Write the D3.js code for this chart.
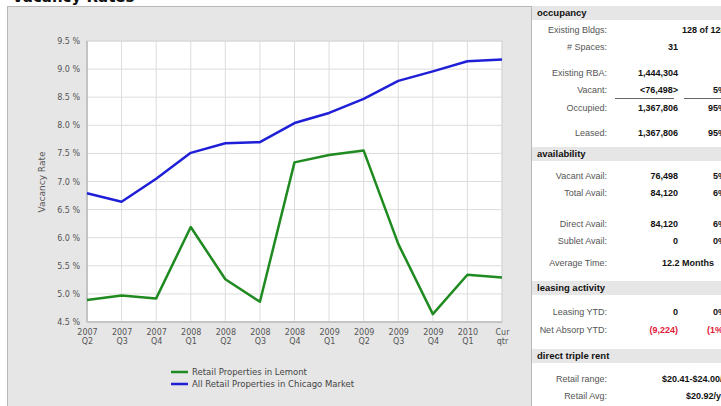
<!DOCTYPE html>
<html>
<head>
<meta charset="utf-8">
<script src="https://cdn.jsdelivr.net/npm/d3@7"></script>
<style>
  body { margin: 0; background: #fff; }
  svg { display: block; }
</style>
</head>
<body>
<div id="chart"></div>
<script>
// data
var quarters = ["2007|Q2", "2007|Q3", "2007|Q4", "2008|Q1", "2008|Q2", "2008|Q3", "2008|Q4",
                "2009|Q1", "2009|Q2", "2009|Q3", "2009|Q4", "2010|Q1", "Cur|qtr"];
var lemont  = [4.89, 4.97, 4.92, 6.19, 5.26, 4.86, 7.34, 7.47, 7.55, 5.89, 4.64, 5.34, 5.29];
var chicago = [6.79, 6.64, 7.05, 7.51, 7.68, 7.70, 8.04, 8.22, 8.47, 8.79, 8.96, 9.14, 9.17];
var yTicks = [4.5, 5.0, 5.5, 6.0, 6.5, 7.0, 7.5, 8.0, 8.5, 9.0, 9.5];
var seriesNames = ["Retail Properties in Lemont", "All Retail Properties in Chicago Market"];
var seriesColors = ["#1f8a1f", "#1f1fd8"];

// right hand table: [label, value, percent, y]
var sections = [
  { title: "occupancy", y: 6, rows: [
    ["Existing Bldgs:", "", "", 30],
    ["# Spaces:", "31", "", 47],
    ["Existing RBA:", "1,444,304", "", 73],
    ["Vacant:", "<76,498>", "5%", 90],
    ["Occupied:", "1,367,806", "95%", 108],
    ["Leased:", "1,367,806", "95%", 133]
  ]},
  { title: "availability", y: 147, rows: [
    ["Vacant Avail:", "76,498", "5%", 176],
    ["Total Avail:", "84,120", "6%", 193],
    ["Direct Avail:", "84,120", "6%", 224],
    ["Sublet Avail:", "0", "0%", 241],
    ["Average Time:", "", "", 263]
  ]},
  { title: "leasing activity", y: 281, rows: [
    ["Leasing YTD:", "0", "0%", 312],
    ["Net Absorp YTD:", "(9,224)", "(1%)", 330]
  ]},
  { title: "direct triple rent", y: 349, rows: [
    ["Retail range:", "", "", 379],
    ["Retail Avg:", "", "", 396]
  ]}
];
// wide values that run past the columns
var wideValues = [["128 of 128", 682, 30], ["12.2 Months", 662, 263],
                  ["$20.41-$24.00/yr", 662, 379], ["$20.92/yr", 686, 396]];

var W = 721, H = 406;
var margin = { top: 41, left: 87 };
var width = 502 - 87;
var height = 322 - 41;

var svg = d3.select("#chart").append("svg")
  .attr("width", W)
  .attr("height", H);

// title, mostly cut off by the top of the picture
svg.append("text")
  .attr("x", 12).attr("y", 2)
  .style("font-family", "DejaVu Sans")
  .style("font-weight", "bold")
  .style("font-size", "15px")
  .attr("fill", "#111")
  .text("Vacancy Rates");

// grey chart panel
svg.append("rect")
  .attr("x", 7.5).attr("y", 6.5)
  .attr("width", 524).attr("height", 410)
  .attr("fill", "#e6e6e6")
  .attr("stroke", "#b8b8b8");

var g = svg.append("g")
  .attr("transform", `translate(${margin.left},${margin.top})`);

var x = d3.scalePoint()
  .domain(quarters)
  .range([0, width]);

var y = d3.scaleLinear()
  .domain([4.5, 9.5])
  .range([height, 0]);

g.append("rect")
  .attr("width", width).attr("height", height)
  .attr("fill", "#fff")
  .attr("stroke", "#cfcfcf");

// grid lines
g.append("g")
  .selectAll("line.h")
  .data(yTicks)
  .join("line")
    .attr("x1", 0).attr("x2", width)
    .attr("y1", d => y(d)).attr("y2", d => y(d))
    .attr("stroke", "#dcdcdc");

g.append("g")
  .selectAll("line.v")
  .data(quarters)
  .join("line")
    .attr("x1", d => x(d)).attr("x2", d => x(d))
    .attr("y1", 0).attr("y2", height)
    .attr("stroke", "#dcdcdc");

// axis lines
g.append("line").attr("x1", 0).attr("x2", 0).attr("y1", 0).attr("y2", height)
  .attr("stroke", "#c4c4c4").attr("stroke-width", 2);
g.append("line").attr("x1", 0).attr("x2", width).attr("y1", height).attr("y2", height)
  .attr("stroke", "#c4c4c4").attr("stroke-width", 2);

// y axis
var yAxis = g.append("g")
  .call(d3.axisLeft(y).tickValues(yTicks).tickSize(0).tickPadding(7)
    .tickFormat(d => d3.format(".1f")(d) + " %"));
yAxis.select(".domain").remove();
yAxis.selectAll("text")
  .style("font-family", "DejaVu Sans")
  .style("font-size", "8px")
  .attr("fill", "#555");

// x axis, two lines per label
var xAxis = g.append("g")
  .attr("transform", `translate(0,${height})`)
  .call(d3.axisBottom(x).tickSize(0).tickPadding(0).tickFormat(""));
xAxis.select(".domain").remove();
xAxis.selectAll(".tick").each(function(d) {
  var parts = d.split("|");
  var t = d3.select(this).append("text")
    .attr("fill", "#555")
    .style("font-family", "DejaVu Sans")
    .style("font-size", "8px")
    .attr("text-anchor", "middle");
  t.append("tspan").attr("x", 0).attr("y", 13).text(parts[0]);
  t.append("tspan").attr("x", 0).attr("y", 22).text(parts[1]);
});

svg.append("text")
  .attr("transform", "rotate(-90)")
  .attr("x", -182).attr("y", 45)
  .attr("text-anchor", "middle")
  .style("font-family", "DejaVu Sans")
  .style("font-size", "9px")
  .attr("fill", "#555")
  .text("Vacancy Rate");

// lines
var line = d3.line()
  .x((d, i) => x(quarters[i]))
  .y(d => y(d));

[lemont, chicago].forEach(function(vals, i) {
  g.append("path")
    .datum(vals)
    .attr("fill", "none")
    .attr("stroke", seriesColors[i])
    .attr("stroke-width", 2.5)
    .attr("stroke-linejoin", "round")
    .attr("d", line);
});

// legend
var legend = svg.append("g").attr("transform", "translate(171,372)");
seriesNames.forEach(function(name, i) {
  legend.append("line")
    .attr("x1", 0).attr("x2", 17)
    .attr("y1", i * 12).attr("y2", i * 12)
    .attr("stroke", seriesColors[i]).attr("stroke-width", 2.5);
  legend.append("text")
    .attr("x", 21).attr("y", i * 12 + 3)
    .style("font-family", "DejaVu Sans")
    .style("font-size", "8.5px")
    .attr("fill", "#444")
    .text(name);
});

// right hand table
var table = svg.append("g");
table.append("rect")
  .attr("x", 532).attr("y", 7).attr("width", 190).attr("height", 400)
  .attr("fill", "#fff");

sections.forEach(function(s) {
  table.append("rect")
    .attr("x", 532).attr("y", s.y).attr("width", 190).attr("height", 14)
    .attr("fill", "#e6e6e6");
  table.append("text")
    .attr("x", 537).attr("y", s.y + 10)
    .style("font-family", "Liberation Sans")
    .style("font-weight", "bold")
    .style("font-size", "9.5px")
    .attr("fill", "#111")
    .text(s.title);

  s.rows.forEach(function(r) {
    var red = r[1].charAt(0) === "(";
    table.append("text")
      .attr("x", 607).attr("y", r[3] + 3)
      .attr("text-anchor", "end")
      .style("font-family", "Liberation Sans")
      .style("font-size", "9px")
      .attr("fill", "#555")
      .text(r[0]);
    table.append("text")
      .attr("x", 678).attr("y", r[3] + 3)
      .attr("text-anchor", "end")
      .style("font-family", "Liberation Sans")
      .style("font-weight", "bold")
      .style("font-size", "9px")
      .attr("fill", red ? "#e0203a" : "#111")
      .text(r[1]);
    table.append("text")
      .attr("x", 726).attr("y", r[3] + 3)
      .attr("text-anchor", "end")
      .style("font-family", "Liberation Sans")
      .style("font-weight", "bold")
      .style("font-size", "9px")
      .attr("fill", red ? "#e0203a" : "#111")
      .text(r[2]);
  });
});

wideValues.forEach(function(v) {
  table.append("text")
    .attr("x", v[1]).attr("y", v[2] + 3)
    .style("font-family", "Liberation Sans")
    .style("font-weight", "bold")
    .style("font-size", "9px")
    .attr("fill", "#111")
    .text(v[0]);
});

// rules under the vacant row
table.append("line").attr("x1", 615).attr("x2", 674).attr("y1", 98.5).attr("y2", 98.5)
  .attr("stroke", "#666");
table.append("line").attr("x1", 684).attr("x2", 721).attr("y1", 98.5).attr("y2", 98.5)
  .attr("stroke", "#666");
</script>
</body>
</html>
